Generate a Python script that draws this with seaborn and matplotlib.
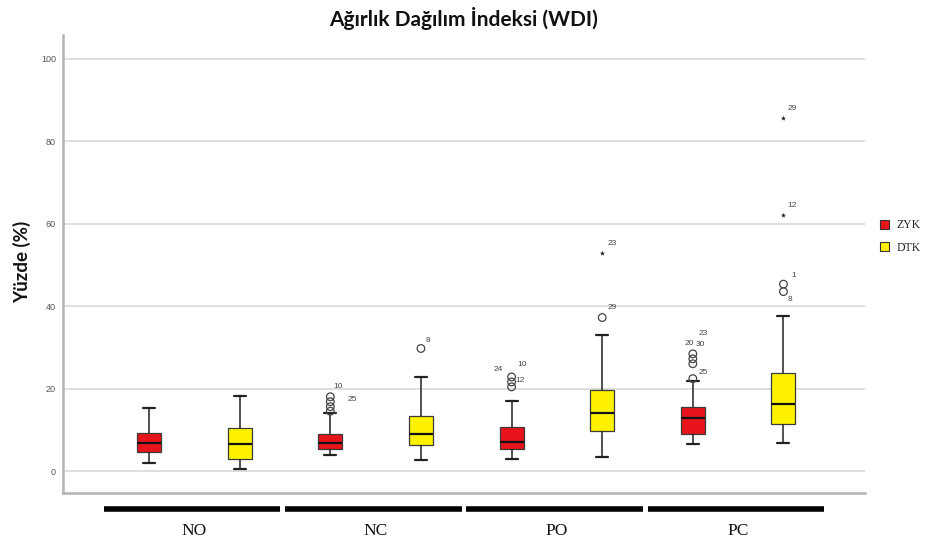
import numpy as np
import pandas as pd
import matplotlib
matplotlib.use("Agg")
import matplotlib.pyplot as plt
import matplotlib.transforms as mtransforms
from matplotlib.patches import Patch
import seaborn as sns

# ---------------- data ----------------
groups = ["NO", "NC", "PO", "PC"]
series = ["ZYK", "DTK"]

# five-number summaries: whisker low, Q1, median, Q3, whisker high
zyk_low = [2.0, 3.9, 3.0, 6.5]
zyk_q1 = [4.5, 5.3, 5.3, 9.0]
zyk_med = [6.8, 6.8, 7.0, 12.8]
zyk_q3 = [9.3, 8.9, 10.7, 15.4]
zyk_high = [15.3, 14.0, 17.0, 21.8]

dtk_low = [0.6, 2.7, 3.3, 6.9]
dtk_q1 = [3.0, 6.3, 9.7, 11.4]
dtk_med = [6.5, 8.9, 14.0, 16.2]
dtk_q3 = [10.5, 13.4, 19.6, 23.8]
dtk_high = [18.2, 22.9, 33.0, 37.6]

# outliers (open circles)
out_group = ["NC", "NC", "NC", "NC", "NC", "PO", "PO", "PO", "PO",
             "PC", "PC", "PC", "PC", "PC", "PC"]
out_series = ["ZYK", "ZYK", "ZYK", "ZYK", "DTK", "ZYK", "ZYK", "ZYK", "DTK",
              "ZYK", "ZYK", "ZYK", "ZYK", "DTK", "DTK"]
out_value = [18.0, 16.8, 15.6, 14.5, 29.7, 22.8, 21.6, 20.4, 37.2,
             28.4, 27.2, 26.0, 22.4, 45.3, 43.5]
out_label = ["10", "25", "", "", "8", "24", "10", "12", "29",
             "23", "20", "30", "25", "1", "8"]

# extreme values (stars)
ext_group = ["PO", "PC", "PC"]
ext_series = ["DTK", "DTK", "DTK"]
ext_value = [52.8, 85.7, 62.1]
ext_label = ["23", "29", "12"]

y_ticks = [0, 20, 40, 60, 80, 100]

# ---------------- style ----------------
palette = {"ZYK": "#E8141C", "DTK": "#FFF200"}
out_offsets = [(8, 10), (22, 2), (0, 0), (0, 0), (7, 8), (-13, 7), (11, 17), (8, 6), (10, 10),
               (10, 20), (-4, 15), (8, 19), (10, 6), (10, 9), (6, -8)]
ext_offsets = [(10, 10), (9, 9), (9, 9)]

sns.set_theme(style="white")
plt.rcParams["font.family"] = ["Liberation Sans", "DejaVu Sans"]

cats = [f"{g}-{s}" for g in groups for s in series]
rows = []
for i, g in enumerate(groups):
    for s, stats in (("ZYK", (zyk_low, zyk_q1, zyk_med, zyk_q3, zyk_high)),
                     ("DTK", (dtk_low, dtk_q1, dtk_med, dtk_q3, dtk_high))):
        for arr in stats:
            rows.append({"cat": f"{g}-{s}", "series": s, "value": arr[i]})
df = pd.DataFrame(rows)

out_df = pd.DataFrame({"cat": [f"{g}-{s}" for g, s in zip(out_group, out_series)],
                       "value": out_value, "label": out_label})
ext_df = pd.DataFrame({"cat": [f"{g}-{s}" for g, s in zip(ext_group, ext_series)],
                       "value": ext_value, "label": ext_label})

W, H = 928, 547
fig = plt.figure(figsize=(W / 100, H / 100), dpi=100)
ax = fig.add_axes([63 / W, 1 - 493 / H, 802 / W, 458 / H])

sns.boxplot(data=df, x="cat", y="value", hue="series", order=cats, hue_order=series,
            palette=palette, saturation=1, dodge=False, width=0.265, whis=np.inf,
            showfliers=False, linecolor="#3a3a3a", linewidth=0.9,
            medianprops=dict(color="#111111", linewidth=1.6),
            whiskerprops=dict(color="#222222", linewidth=1.1),
            capprops=dict(color="#222222", linewidth=1.6),
            legend=False, ax=ax, zorder=3)

n_before = len(ax.collections)
sns.stripplot(data=out_df, x="cat", y="value", order=cats, jitter=False,
              color="#444444", marker="o", size=5.5, linewidth=0.9,
              edgecolor="#444444", ax=ax, zorder=4)
for coll in ax.collections[n_before:]:
    coll.set_facecolor("none")
    coll.set_edgecolor("#444444")
sns.stripplot(data=ext_df, x="cat", y="value", order=cats, jitter=False,
              color="#222222", marker="*", size=4, linewidth=0, ax=ax, zorder=4)

for df_, offs in ((out_df, out_offsets), (ext_df, ext_offsets)):
    for (c, v, lab), off in zip(df_[["cat", "value", "label"]].itertuples(index=False), offs):
        if lab:
            ax.annotate(lab, (cats.index(c), v), xytext=off, textcoords="offset pixels",
                        ha="center", va="center", fontsize=6, color="#444444")

ax.set_xlim(-0.95, 7.9)
ax.set_ylim(-5.33, 105.7)
ax.set_yticks(y_ticks)
ax.set_yticklabels([str(t) for t in y_ticks], fontsize=6.5, color="#555555")
ax.set_xticks([])
ax.set_xlabel("")
ax.set_ylabel("")
ax.tick_params(axis="y", length=0, pad=5)
ax.yaxis.grid(True, color="#dcdcdc", linewidth=1.3, zorder=0)
ax.set_axisbelow(True)
for side in ("top", "right"):
    ax.spines[side].set_visible(False)
for side in ("left", "bottom"):
    ax.spines[side].set_color("#b4b4b4")
    ax.spines[side].set_linewidth(1.8)

# group bars and labels below the axis
trans = mtransforms.blended_transform_factory(ax.transData, ax.transAxes)
for i, g in enumerate(groups):
    ax.plot([2 * i - 0.5, 2 * i + 1.45], [-0.035, -0.035], transform=trans,
            color="black", linewidth=4, solid_capstyle="butt", clip_on=False)
    ax.text(2 * i + 0.5, -0.083, g, transform=trans, ha="center", va="center",
            fontsize=12.5, family=["Liberation Serif"], color="#111111")

# legend
handles = [Patch(facecolor=palette[s], edgecolor="#333333", linewidth=0.8) for s in series]
leg = ax.legend(handles, series, loc="center left", bbox_to_anchor=(1.005, 0.56),
                frameon=False, handlelength=0.8, handleheight=0.8, handletextpad=0.6,
                labelspacing=0.9, prop={"family": "Liberation Serif", "size": 8.5})

fig.text(0.5, 1 - 19 / H, "Ağırlık Dağılım İndeksi (WDI)", ha="center", va="center",
         fontsize=15, fontweight="bold", family=["Lato", "DejaVu Sans"], color="#111111")
fig.text(22 / W, 1 - 262 / H, "Yüzde (%)", ha="center", va="center", rotation=90,
         fontsize=13.5, fontweight="bold", family=["Lato", "DejaVu Sans"], color="#111111")

fig.savefig("out.png", dpi=100)
